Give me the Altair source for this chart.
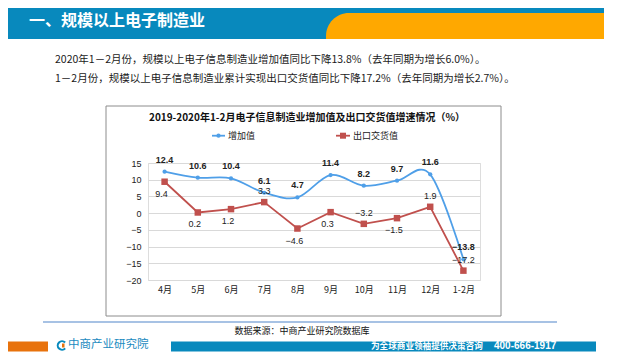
import altair as alt
import pandas as pd

# ---------------- data ----------------
MONTHS = ["4月", "5月", "6月", "7月", "8月", "9月", "10月", "11月", "12月", "1-2月"]
ADDED_VALUE = [12.4, 10.6, 10.4, 6.1, 4.7, 11.4, 8.2, 9.7, 11.6, -13.8]
EXPORT_VALUE = [9.4, 0.2, 1.2, 3.3, -4.6, 0.3, -3.2, -1.5, 1.9, -17.2]
SERIES = ["增加值", "出口交货值"]
Y_TICKS = [15, 10, 5, 0, -5, -10, -15, -20]
EXPORT_LABELS_ABOVE = ["7月", "10月", "12月", "1-2月"]

HEADER = "一、规模以上电子制造业"
INTRO = [
    "2020年1－2月份，规模以上电子信息制造业增加值同比下降13.8%（去年同期为增长6.0%）。",
    "1－2月份，规模以上电子信息制造业累计实现出口交货值同比下降17.2%（去年同期为增长2.7%）。",
]
CHART_TITLE = "2019-2020年1-2月电子信息制造业增加值及出口交货值增速情况（%）"
SOURCE = "数据来源：中商产业研究院数据库"
LOGO = "中商产业研究院"
SLOGAN = "为全球商业领袖提供决策咨询"
PHONE = "400-666-1917"

# ---------------- styling ----------------
BLUE = "#4f9fe8"
RED = "#c0504d"
HEAD_BLUE = "#0889bd"
HEAD_ORANGE = "#ffa800"
FOOT_ORANGE = "#e8720c"
CJK = "Noto Sans CJK SC"
LAT = "Liberation Sans"

# plot-area origin in page pixels
OX, OY = 148, 163
W, H = 332, 117


def X(px):
    return px - OX


def Y(py):
    return py - OY


ONE = alt.Data(values=[{"k": 0}])


def rect(x1, y1, x2, y2, **kw):
    return alt.Chart(ONE).mark_rect(**kw).encode(
        x=alt.value(X(x1)), x2=alt.value(X(x2)), y=alt.value(Y(y1)), y2=alt.value(Y(y2))
    )


def text(s, px, py, **kw):
    return alt.Chart(alt.Data(values=[{"t": s}])).mark_text(**kw).encode(
        x=alt.value(X(px)), y=alt.value(Y(py)), text="t:N"
    )


def rule(x1, x2, py, **kw):
    return alt.Chart(ONE).mark_rule(**kw).encode(
        x=alt.value(X(x1)), x2=alt.value(X(x2)), y=alt.value(Y(py))
    )


def point(px, py, **kw):
    return alt.Chart(ONE).mark_point(**kw).encode(x=alt.value(X(px)), y=alt.value(Y(py)))


# ---------------- decorations ----------------
deco = [
    rect(0, 0, 604, 39, color=HEAD_BLUE),
    rect(326, 13, 604, 60, color=HEAD_ORANGE, cornerRadiusTopLeft=23),
    rect(300, 39, 615, 61, color="white"),
    text(HEADER, 29, 21, font=CJK, fontSize=16, fontWeight="bold", color="white", align="left", baseline="middle"),
    text(INTRO[0], 55, 60, font=CJK, fontSize=10.5, color="#1a1a1a", align="left", baseline="middle"),
    text(INTRO[1], 55, 79, font=CJK, fontSize=10.5, color="#1a1a1a", align="left", baseline="middle"),
    rect(106, 106, 501, 316, fillOpacity=0, stroke="#8c8c8c", strokeWidth=1),
    text(CHART_TITLE, 307, 118, font=CJK, fontSize=10, fontWeight="bold", color="#111", align="center", baseline="middle"),
    rule(43, 557, 322, color="#8aaedb", strokeWidth=1.5),
    text(SOURCE, 302, 331, font=CJK, fontSize=9, color="#111", align="center", baseline="middle"),
    rect(4, 341.5, 48, 351.5, color=FOOT_ORANGE),
    rect(171, 341.5, 596, 351.5, color=HEAD_BLUE),
    alt.Chart(ONE).mark_arc(radius=5.3, radius2=3.2, theta=2.3, theta2=7.1, color=HEAD_BLUE).encode(
        x=alt.value(X(62)), y=alt.value(Y(345.5))
    ),
    rect(62, 343.5, 64.5, 347.5, color=FOOT_ORANGE),
    text(LOGO, 68, 345.2, font=CJK, fontSize=11.5, color="#1a8ac0", align="left", baseline="middle"),
    text(SLOGAN, 371, 346.3, font=CJK, fontSize=8.6, fontWeight="bold", color="white", align="left", baseline="middle"),
    text(PHONE, 494, 346.3, font=LAT, fontSize=10, fontWeight="bold", color="white", align="left", baseline="middle"),
]

# legend
legend = [
    rule(212, 225, 135.7, color=BLUE, strokeWidth=1.8),
    point(218.5, 135.7, shape="circle", filled=True, size=18, color=BLUE, opacity=1),
    text(SERIES[0], 228, 135.7, font=CJK, fontSize=9, color="#222", align="left", baseline="middle"),
    rule(336, 350, 135.7, color=RED, strokeWidth=1.8),
    point(343, 135.7, shape="square", filled=True, size=36, color=RED, opacity=1),
    text(SERIES[1], 353, 135.7, font=CJK, fontSize=9, color="#222", align="left", baseline="middle"),
]

# ---------------- data layers ----------------
df = pd.DataFrame({"month": MONTHS, "added": ADDED_VALUE, "export": EXPORT_VALUE})

x_axis = alt.Axis(
    title=None, labelAngle=0, ticks=False, domain=False, grid=False,
    labelFont=CJK, labelFontSize=9, labelColor="#222", labelPadding=5,
)
x_scale = alt.Scale(type="point", domain=MONTHS, padding=0.5)
y_scale = alt.Scale(domain=[-20, 15], nice=False, zero=False)
y_axis = alt.Axis(
    title=None, values=Y_TICKS, grid=True, gridColor="#d9d9d9", gridWidth=1, gridOpacity=1,
    domain=False, ticks=False, labelFont=LAT, labelFontSize=9, labelColor="#222", labelPadding=7,
    labelOverlap=False, labelFlush=False,
)


def xe():
    return alt.X("month:N", sort=MONTHS, scale=x_scale, axis=x_axis)


def ye(field):
    return alt.Y(field, type="quantitative", scale=y_scale, axis=y_axis)


base = alt.Chart(df)

blue_line = base.mark_line(interpolate="cardinal", color=BLUE, strokeWidth=1.8).encode(x=xe(), y=ye("added"))
blue_pts = base.mark_point(shape="circle", filled=True, size=18, color=BLUE, opacity=1).encode(x=xe(), y=ye("added"))
red_line = base.mark_line(color=RED, strokeWidth=1.8).encode(x=xe(), y=ye("export"))
red_pts = base.mark_point(shape="square", filled=True, size=42, color=RED, opacity=1).encode(x=xe(), y=ye("export"))
blue_lbl = base.mark_text(dy=-12, font=LAT, fontSize=9, fontWeight="bold", color="#222").encode(
    x=xe(), y=ye("added"), text=alt.Text("added:Q", format=".1f")
)
above = alt.FieldOneOfPredicate(field="month", oneOf=EXPORT_LABELS_ABOVE)
red_lbl_up = base.transform_filter(above).mark_text(dy=-11, font=LAT, fontSize=9, color="#222").encode(
    x=xe(), y=ye("export"), text=alt.Text("export:Q", format=".1f")
)
red_lbl_dn = base.transform_filter(~above).mark_text(dy=12, dx=-3, font=LAT, fontSize=9, color="#222").encode(
    x=xe(), y=ye("export"), text=alt.Text("export:Q", format=".1f")
)

chart = alt.layer(
    *deco,
    blue_line, red_line, blue_pts, red_pts, blue_lbl, red_lbl_up, red_lbl_dn,
    *legend,
).properties(
    width=W,
    height=H,
    padding={"left": OX - 8, "top": OY - 8, "right": 624 - (OX - 8) - W, "bottom": 344 - (OY - 8) - H},
    autosize=alt.AutoSizeParams(type="none"),
).configure_view(stroke=None).configure(background="white")

chart.save("out.html", embed_options={"renderer": "svg", "actions": False})
